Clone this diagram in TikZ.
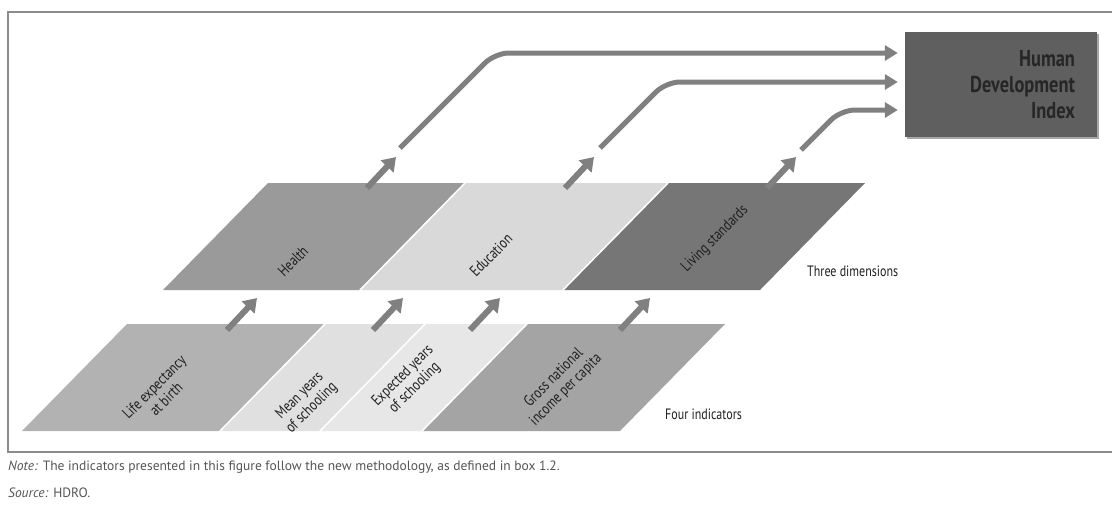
\documentclass[tikz,border=0pt]{standalone}
\usepackage{fontspec}
\setmainfont{PT Sans}
\newfontfamily\condfont[FakeStretch=0.8]{PT Sans}
\usetikzlibrary{arrows.meta,shadows}
\definecolor{cHealth}{HTML}{9A9A9A}
\definecolor{cEdu}{HTML}{D9D9D9}
\definecolor{cLiving}{HTML}{767676}
\definecolor{cLife}{HTML}{B2B2B2}
\definecolor{cMean}{HTML}{E0E0E0}
\definecolor{cExp}{HTML}{E7E7E7}
\definecolor{cGross}{HTML}{A4A4A4}
\definecolor{cArrow}{HTML}{808080}
\definecolor{cHDI}{HTML}{5F5F5F}
\definecolor{cText}{HTML}{202020}
\definecolor{cHDIText}{HTML}{262626}
\definecolor{cFrame}{HTML}{8C8C8C}
\definecolor{cNote}{HTML}{555555}
\tikzset{
  dimlabel/.style={inner sep=0pt, rotate=45, text=cText, font=\condfont\fontsize{15.5}{17}\selectfont},
  indlabel/.style={inner sep=0pt, rotate=45, align=center, text=cText, font=\condfont\fontsize{15.5}{17}\selectfont},
  rowlabel/.style={inner sep=0pt, anchor=base west, text=cText, font=\condfont\fontsize{15}{17}\selectfont},
  hdibox/.style={fill=cHDI, minimum width=192pt, minimum height=105pt, text width=148pt, inner xsep=22pt, inner ysep=0pt, align=right, text=cHDIText, font=\condfont\bfseries\fontsize{23}{26}\selectfont, drop shadow={shadow xshift=1.5pt, shadow yshift=-1.5pt, opacity=0.35, fill=black}},
  flow/.style={draw=cArrow, line width=5pt, rounded corners=14pt, -{Triangle[length=13pt,width=15pt]}},
  upflow/.style={draw=cArrow, line width=6pt, -{Triangle[length=13pt,width=17pt]}},
  notestyle/.style={inner sep=0pt, anchor=base west, text=cNote, font=\fontsize{13.5}{15}\selectfont},
  frame/.style={draw=cFrame, line width=1.6pt}
}
\newcommand{\parall}[5]{\fill[#5] (#1,#3) -- (#2,#3) -- ({#2+105},#4) -- ({#1+105},#4) -- cycle;}
\begin{document}
\begin{tikzpicture}[x=1pt,y=-1pt]
\useasboundingbox (0,0) rectangle (1112,504);
\fill[white] (0,0) rectangle (1112,504);
% frame
\draw[frame] (1114,12) -- (8,12) -- (8,452) -- (1114,452);
% dimension row
\parall{163}{360}{290}{183}{cHealth}
\parall{360}{563}{290}{183}{cEdu}
\parall{563}{760}{290}{183}{cLiving}
% indicator row
\parall{22}{220}{431}{324}{cLife}
\parall{220}{320}{431}{324}{cMean}
\parall{320}{422}{431}{324}{cExp}
\parall{422}{620}{431}{324}{cGross}
% white separators
\draw[white, line width=1.5pt] (360,290) -- (465,183) (563,290) -- (668,183);
\draw[white, line width=1.5pt] (220,431) -- (325,324) (320,431) -- (425,324) (422,431) -- (527,324);
% labels
\node[dimlabel] (health) at (293,261) {Health};
\node[dimlabel] (education) at (491,255) {Education};
\node[dimlabel] (living) at (715,239) {Living standards};
\node[indlabel] (life) at (160,393) {Life expectancy\\at birth};
\node[indlabel] (mean) at (306,402) {Mean years\\of schooling};
\node[indlabel] (expected) at (409,382) {Expected years\\of schooling};
\node[indlabel] (gni) at (560,384) {Gross national\\income per capita};
\node[rowlabel] (three) at (807,276) {Three dimensions};
\node[rowlabel] (four) at (665,419) {Four indicators};
% HDI box
\node[hdibox] (hdi) at (1001,84.5) {Human\\Development\\Index};
% arrow end points
\coordinate (la1) at (227,330); \coordinate (lb1) at (257,298);
\coordinate (la2) at (373,330); \coordinate (lb2) at (403,298);
\coordinate (la3) at (470,330); \coordinate (lb3) at (500,298);
\coordinate (la4) at (620,330); \coordinate (lb4) at (650,298);
\coordinate (ua1) at (367,188); \coordinate (ub1) at (396,157);
\coordinate (ua2) at (565,188); \coordinate (ub2) at (594,157);
\coordinate (ua3) at (767,188); \coordinate (ub3) at (796,157);
\coordinate (hs1) at (400,148); \coordinate (he1) at ([xshift=-7pt]hdi.west |- 0,53);
\coordinate (hs2) at (600,148); \coordinate (he2) at ([xshift=-7pt]hdi.west |- 0,82);
\coordinate (hs3) at (801,150); \coordinate (he3) at ([xshift=-7pt]hdi.west |- 0,110);
% arrows
\foreach \i in {1,2,3,4} {\draw[upflow] (la\i) -- (lb\i);}
\foreach \i in {1,2,3} {\draw[upflow] (ua\i) -- (ub\i);}
\draw[flow] (hs1) -- ++(95,-95) -- (he1);
\draw[flow] (hs2) -- ++(66,-66) -- (he2);
\draw[flow] (hs3) -- ++(40,-40) -- (he3);
% notes
\node[notestyle] (note) at (8,470) {\textit{Note:} The indicators presented in this figure follow the new methodology, as defined in box 1.2.};
\node[notestyle] (source) at (8,497) {\textit{Source:} HDRO.};
\end{tikzpicture}
\end{document}
